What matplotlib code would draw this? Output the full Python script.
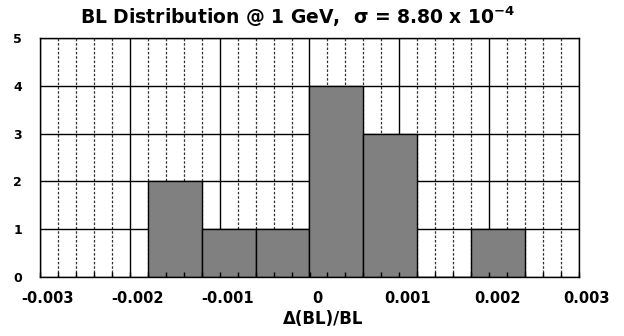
import matplotlib.pyplot as plt
import matplotlib.transforms as mtransforms
import numpy as np

# histogram data: left edge of each bin and counts
bin_left = [-0.0018, -0.0012, -0.0006, 0.0, 0.0006, 0.0012, 0.0018]
counts = [2, 1, 1, 4, 3, 0, 1]
bin_width = 0.0006

x_ticks = [-0.003, -0.002, -0.001, 0, 0.001, 0.002, 0.003]
x_labels = ['-0.003', '-0.002', '-0.001', '0', '0.001', '0.002', '0.003']
y_ticks = [0, 1, 2, 3, 4, 5]
minor_step = 0.0002

fig = plt.figure(figsize=(6.24, 3.36), dpi=100)
rect = [40/624, 59/336, 539/624, 239/336]
ax = fig.add_axes(rect)

# bars
ax.bar(bin_left, counts, width=bin_width, align='edge', color='#808080',
       edgecolor='black', linewidth=1, zorder=3)

ax.set_xlim(-0.003, 0.003)
ax.set_ylim(0, 5)
ax.set_xticks(x_ticks)
ax.set_xticklabels(x_labels)
minor = np.arange(-0.003, 0.003 + minor_step/2, minor_step)
ax.set_xticks(minor, minor=True)
ax.set_yticks(y_ticks)

# gridlines behind bars
ax.set_axisbelow(True)
ax.grid(which='major', axis='both', color='black', linewidth=1)
ax.grid(which='minor', axis='x', color='#303030', linewidth=0.9, linestyle=(0, (2, 1.5)))
ax.tick_params(which='both', length=0)
ax.tick_params(axis='x', pad=10, labelsize=10.5)
ax.tick_params(axis='y', pad=13, labelsize=9)
for lab in ax.get_xticklabels() + ax.get_yticklabels():
    lab.set_fontweight('bold')
# labels sit a little right of the gridlines
off = mtransforms.ScaledTranslation(8/100, 0, fig.dpi_scale_trans)
for lab in ax.get_xticklabels():
    lab.set_transform(lab.get_transform() + off)

for s in ax.spines.values():
    s.set_linewidth(1)
    s.set_color('black')
    s.set_zorder(4)

# small inward ticks on top of the bars (overlay axes)
ax2 = fig.add_axes(rect, frameon=False)
ax2.set_xlim(ax.get_xlim())
ax2.set_ylim(ax.get_ylim())
ax2.set_xticks(minor)
ax2.set_xticklabels([])
ax2.set_yticks([])
ax2.xaxis.set_tick_params(which='major', direction='in', length=3.5, width=1,
                          color='black', bottom=True, top=False)

fig.text(298/624, 1 - 17/336, 'BL Distribution @ 1 GeV,  σ = 8.80 x 10$^{\\mathbf{-4}}$',
         ha='center', va='center', fontsize=13.5, fontweight='bold')
fig.text(323/624, 1 - 319/336, 'Δ(BL)/BL', ha='center', va='center',
         fontsize=12, fontweight='bold')

plt.savefig('out.png', dpi=100)
